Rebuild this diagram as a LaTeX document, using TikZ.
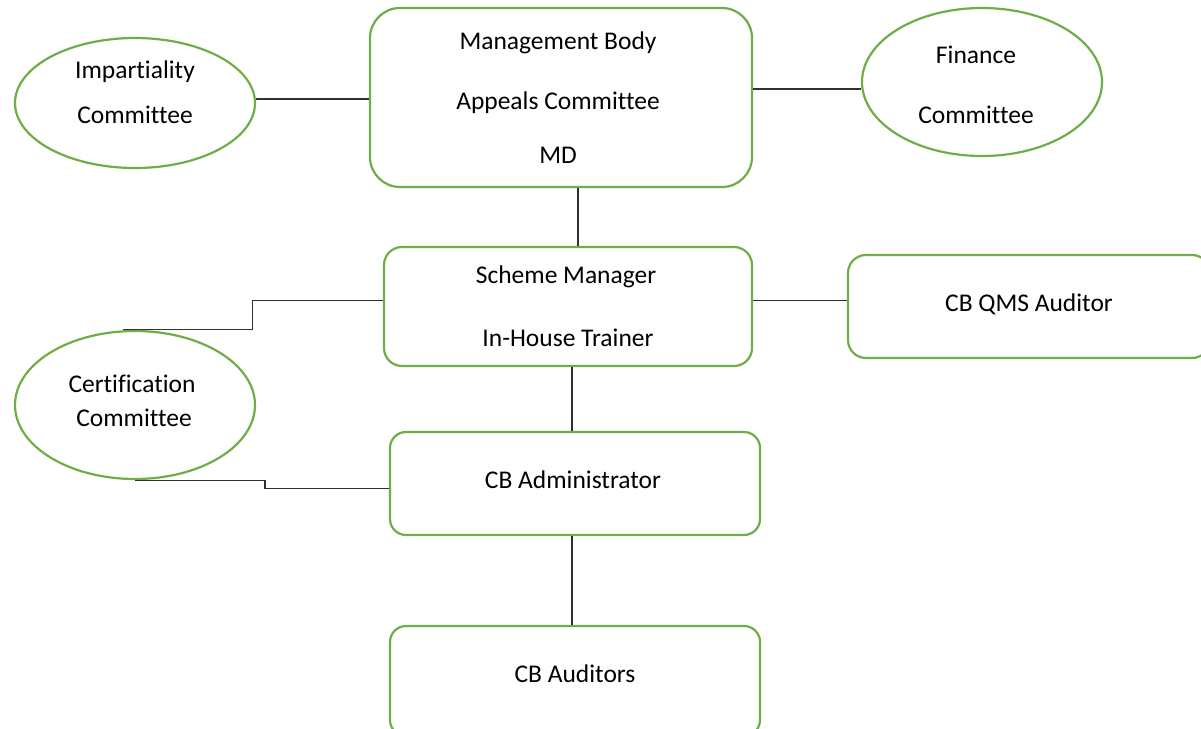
\documentclass[tikz,border=0pt]{standalone}
\usepackage{fontspec}
\setmainfont{Carlito}[Ligatures=NoCommon]
\usetikzlibrary{shapes.geometric,calc}
\definecolor{leaf}{HTML}{70AD47}
\definecolor{wire}{HTML}{303030}
\begin{document}
\begin{tikzpicture}[x=1pt,y=-1pt,
  box/.style={draw=leaf,line width=2.2pt,fill=white,inner sep=0pt},
  oval/.style={draw=leaf,line width=2.2pt,fill=white,ellipse,inner sep=0pt},
  lbl/.style={font=\fontsize{25.5}{30}\selectfont,text=black,inner sep=0pt,anchor=center},
  link/.style={draw=wire,line width=1.1pt}]
\useasboundingbox (0,0) rectangle (1201,728);
\begin{scope}
\clip (0,0) rectangle (1201,728);
% x positions of the vertical links
\coordinate (a1) at (578,0);
\coordinate (a2) at (572,0);
% shapes
\node[oval,minimum width=240pt,minimum height=130pt] (imp) at (135,103) {};
\node[box,rounded corners=30pt,minimum width=382pt,minimum height=179pt] (mgmt) at (561,97.5) {};
\node[oval,minimum width=240pt,minimum height=148pt] (fin) at (982,82) {};
\node[box,rounded corners=18pt,minimum width=368pt,minimum height=119pt] (sch) at (568,306.5) {};
\node[box,rounded corners=18pt,minimum width=362pt,minimum height=103pt] (qms) at (1029,306.5) {};
\node[oval,minimum width=240pt,minimum height=148pt] (cert) at (135,405) {};
\node[box,rounded corners=16pt,minimum width=370pt,minimum height=103pt] (adm) at (575,483.5) {};
\node[box,rounded corners=16pt,minimum width=370pt,minimum height=110pt] (aud) at (575,681) {};
% links
\draw[link] (imp.east |- 0,99) -- (mgmt.west |- 0,99);
\draw[link] (mgmt.east |- 0,89) -- (fin.west |- 0,89);
\draw[link] (mgmt.south -| a1) -- (sch.north -| a1);
\draw[link] ($(sch.west)+(0,-6)$) -- ++(-130,0) |- ($(cert.north)+(-12,0)$);
\draw[link] ($(sch.east)+(0,-6)$) -- ($(qms.west)+(0,-6)$);
\draw[link] (sch.south -| a2) -- (adm.north -| a2);
\draw[link] (cert.south) -- ++(130,0) |- ($(adm.west)+(0,5)$);
\draw[link] (adm.south -| a2) -- (aud.north -| a2);
% labels
\node[lbl] (t1) at (135,72) {Impartiality};
\node[lbl] (t2) at (135,115) {Committee};
\node[lbl] (t3) at (558,43) {Management Body};
\node[lbl] (t4) at (558,103) {Appeals Committee};
\node[lbl] (t5) at (558,155) {MD};
\node[lbl] (t6) at (976,55) {Finance};
\node[lbl] (t7) at (976,115) {Committee};
\node[lbl] (t8) at (566,277) {Scheme Manager};
\node[lbl] (t9) at (568,338) {In-House Trainer};
\node[lbl] (t10) at (1029,304) {CB QMS Auditor};
\node[lbl] (t11) at (132,384) {Certification};
\node[lbl] (t12) at (134,418) {Committee};
\node[lbl] (t13) at (573,480) {CB Administrator};
\node[lbl] (t14) at (575,674) {CB Auditors};
\end{scope}
\end{tikzpicture}
\end{document}
